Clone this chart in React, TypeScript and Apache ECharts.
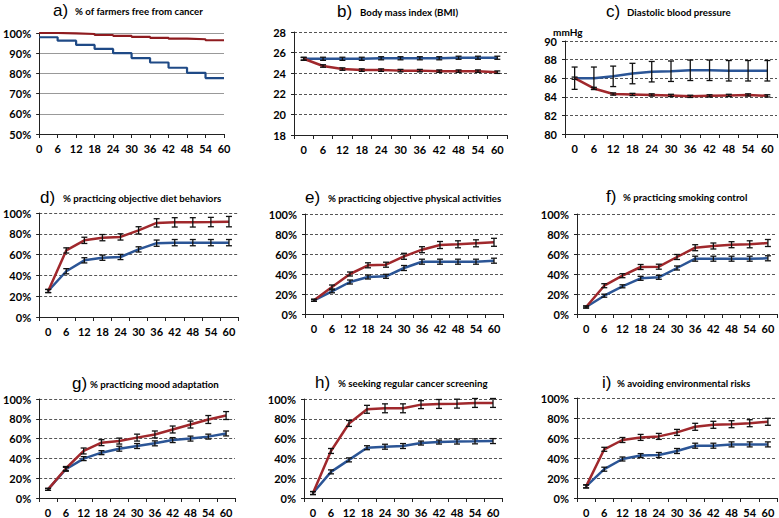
import React, { useEffect, useRef } from "react";
import * as echarts from "echarts";

// ---------- data ----------
const monthLabels = ["0", "6", "12", "18", "24", "30", "36", "42", "48", "54", "60"];
const monthValues = [0, 6, 12, 18, 24, 30, 36, 42, 48, 54, 60];

// a) % free from cancer (step curves)
const aIntervention = [100, 99.8, 99.5, 99.0, 98.6, 98.1, 97.6, 97.2, 96.9, 96.4, 96.4];
const aControl = [97.9, 96.2, 94.1, 92.1, 90.0, 87.6, 85.4, 82.8, 80.3, 77.7, 77.7];

// b) BMI
const bIntervention = [25.4, 24.7, 24.4, 24.3, 24.3, 24.25, 24.25, 24.2, 24.2, 24.2, 24.1];
const bInterventionErr = [0.12, 0.12, 0.12, 0.12, 0.12, 0.12, 0.12, 0.12, 0.12, 0.12, 0.12];
const bControl = [25.4, 25.4, 25.4, 25.4, 25.45, 25.45, 25.45, 25.45, 25.5, 25.5, 25.5];
const bControlErr = [0.15, 0.15, 0.15, 0.15, 0.15, 0.15, 0.15, 0.15, 0.15, 0.15, 0.15];

// c) Diastolic blood pressure
const cIntervention = [86.0, 84.9, 84.3, 84.25, 84.2, 84.15, 84.05, 84.1, 84.15, 84.2, 84.1];
const cInterventionErr = [0.12, 0.12, 0.12, 0.12, 0.12, 0.12, 0.12, 0.12, 0.12, 0.12, 0.12];
const cControl = [86.0, 86.0, 86.2, 86.5, 86.7, 86.75, 86.85, 86.85, 86.8, 86.8, 86.8];
const cControlErr = [1.2, 1.2, 1.1, 1.1, 1.1, 1.1, 1.1, 1.1, 1.1, 1.1, 1.1];

// d) diet behaviors
const dIntervention = [25, 64, 73.7, 76.3, 77, 83.3, 90.5, 91, 91, 91.3, 91.7];
const dInterventionErr = [1.5, 2.5, 3, 3, 3, 3.5, 4, 4.5, 4.5, 4.5, 5];
const dControl = [25, 44, 54.5, 57, 57.7, 65, 71, 71.5, 71.5, 71.5, 71.5];
const dControlErr = [1.5, 2.5, 2.5, 2.5, 2.5, 2.5, 3, 3, 3, 3, 3];

// e) physical activities
const eIntervention = [13.7, 27, 40, 48.7, 49.3, 57.7, 64.3, 69, 69.7, 70.7, 71.7];
const eInterventionErr = [1, 2, 2, 2.5, 2.5, 3, 3, 3.5, 3.5, 3.5, 4];
const eControl = [13.7, 22.7, 32, 37, 37.7, 46, 52.3, 52.3, 52.3, 52.3, 53.3];
const eControlErr = [1, 1.5, 2, 2, 2, 2.5, 2.5, 2.5, 2.5, 2.5, 2.5];

// f) smoking control
const fIntervention = [7, 28.3, 38.3, 47, 47.3, 57, 66.3, 68, 69.3, 69.7, 71];
const fInterventionErr = [1, 2, 2, 2.5, 2.5, 2.5, 3, 3, 3, 3.5, 3.5];
const fControl = [7, 18.3, 27.7, 35.7, 36.7, 46, 55.3, 55.3, 55.3, 55.3, 55.7];
const fControlErr = [1, 1.5, 1.5, 2, 2, 2, 2.5, 2.5, 2.5, 2.5, 2.5];

// g) mood adaptation
const gIntervention = [8.7, 29.8, 47.5, 55.9, 57.5, 61, 64.2, 69.2, 74.2, 79.3, 83.3];
const gInterventionErr = [1, 2, 3, 3, 3, 3.5, 3.5, 3.5, 3.5, 4, 4];
const gControl = [8.7, 29, 39.8, 45.8, 49.8, 52.5, 55.2, 58.5, 60, 62, 65.2];
const gControlErr = [1, 2, 2, 2, 2.5, 2.5, 2.5, 2.5, 2.5, 2.5, 2.5];

// h) cancer screening
const hIntervention = [5, 47.5, 75.3, 89.6, 90.6, 90.6, 94.3, 95, 95.3, 96, 96];
const hInterventionErr = [1.5, 2.5, 3, 4, 4.5, 4.5, 4, 4.5, 4.5, 4.5, 4.5];
const hControl = [5, 26.4, 38.5, 50.8, 51.8, 52.5, 55.5, 56.5, 57, 57.2, 57.5];
const hControlErr = [1.5, 2, 2, 2, 2.5, 2.5, 2, 2, 2.5, 2.5, 2.5];

// i) environmental risks
const iIntervention = [11.6, 48.7, 58, 60.6, 61.6, 65.6, 71.2, 73.2, 73.8, 74.8, 76.2];
const iInterventionErr = [1.5, 2, 2.5, 3, 3, 3, 3.5, 3.5, 3.5, 3.5, 3.5];
const iControl = [11.6, 28.8, 39, 42.4, 43, 47, 52.3, 52.3, 53.6, 53.6, 53.6];
const iControlErr = [1.5, 2, 2, 2, 2.5, 2.5, 2.5, 2.5, 2.5, 2.5, 2.5];

const panelTitles = [
  "% of farmers free from cancer",
  "Body mass index (BMI)",
  "Diastolic blood pressure",
  "% practicing objective diet behaviors",
  "% practicing objective physical activities",
  "% practicing smoking control",
  "% practicing mood adaptation",
  "% seeking regular cancer screening",
  "% avoiding environmental risks",
];
const panelLetters = ["a)", "b)", "c)", "d)", "e)", "f)", "g)", "h)", "i)"];

// ---------- styling / layout ----------
const RED = "#A0282C";
const BLUE = "#2B5596";
const FONT = "Lato";

const grids = [
  { left: 36, top: 33, width: 188, height: 101 },
  { left: 294, top: 32, width: 213, height: 103 },
  { left: 565, top: 41, width: 212, height: 93 },
  { left: 36, top: 213, width: 202, height: 104 },
  { left: 305, top: 214, width: 198, height: 100 },
  { left: 577, top: 214, width: 200, height: 100 },
  { left: 37, top: 399, width: 198, height: 100 },
  { left: 304, top: 399, width: 198, height: 100 },
  { left: 577, top: 398, width: 200, height: 100 },
];

const titlePos = [
  { lx: 53, tx: 75, y: 10 },
  { lx: 337, tx: 360, y: 11 },
  { lx: 606, tx: 627, y: 11 },
  { lx: 40, tx: 63, y: 197 },
  { lx: 305, tx: 328, y: 197 },
  { lx: 606, tx: 623, y: 196 },
  { lx: 72, tx: 90, y: 383 },
  { lx: 315, tx: 338, y: 382 },
  { lx: 602, tx: 617, y: 382 },
];

const labelStyle = { color: "#000", fontFamily: FONT, fontWeight: "bold" as const, fontSize: 11 };

function catXAxis(gridIndex: number) {
  return {
    type: "category",
    gridIndex,
    data: monthLabels,
    boundaryGap: true,
    axisLine: { lineStyle: { color: "#222", width: 1 } },
    axisTick: { show: true, length: 4, lineStyle: { color: "#222" } },
    axisLabel: { ...labelStyle, margin: 9 },
    splitLine: { show: false },
  };
}

function valYAxis(gridIndex: number, min: number, max: number, interval: number, pct: boolean) {
  return {
    type: "value",
    gridIndex,
    min,
    max,
    interval,
    axisLine: { show: true, lineStyle: { color: "#222", width: 1 } },
    axisTick: { show: true, length: 3, lineStyle: { color: "#222" } },
    axisLabel: { ...labelStyle, margin: 8, formatter: pct ? "{value}%" : "{value}" },
    splitLine: { show: true, lineStyle: { color: "#555", width: 1, type: [3, 2] } },
  };
}

function lineSeries(idx: number, data: number[], color: string) {
  return {
    type: "line",
    xAxisIndex: idx,
    yAxisIndex: idx,
    data,
    symbol: "none",
    lineStyle: { color, width: 2.5 },
    z: 3,
  };
}

function errSeries(idx: number, values: number[], errs: number[]) {
  return {
    type: "custom",
    xAxisIndex: idx,
    yAxisIndex: idx,
    z: 5,
    encode: { x: 0, y: [1, 2] },
    data: values.map((v, k) => [k, v - errs[k], v + errs[k]]),
    renderItem: (_params: any, api: any) => {
      const k = api.value(0);
      const lo = api.coord([k, api.value(1)]);
      const hi = api.coord([k, api.value(2)]);
      const w = 3;
      const st = { stroke: "#111", lineWidth: 1.3 };
      return {
        type: "group",
        children: [
          { type: "line", shape: { x1: lo[0], y1: lo[1], x2: hi[0], y2: hi[1] }, style: st },
          { type: "line", shape: { x1: lo[0] - w, y1: lo[1], x2: lo[0] + w, y2: lo[1] }, style: st },
          { type: "line", shape: { x1: hi[0] - w, y1: hi[1], x2: hi[0] + w, y2: hi[1] }, style: st },
        ],
      };
    },
  };
}

export default function App() {
  const ref = useRef<HTMLDivElement>(null);

  useEffect(() => {
    if (!ref.current) return;
    const chart = echarts.init(ref.current, null, { renderer: "svg" });

    const xAxes: any[] = [];
    const yAxes: any[] = [];
    const series: any[] = [];

    // panel a
    xAxes.push({
      type: "value",
      gridIndex: 0,
      min: 0,
      max: 60,
      interval: 6,
      axisLine: { show: true, lineStyle: { color: "#222", width: 1 } },
      axisTick: { show: true, length: 4, lineStyle: { color: "#222" } },
      axisLabel: { ...labelStyle, margin: 9 },
      splitLine: { show: false },
    });
    yAxes.push({
      ...valYAxis(0, 50, 100, 10, true),
      splitLine: { show: true, lineStyle: { color: "#999", width: 1, type: "solid" } },
    });
    series.push({
      type: "line",
      xAxisIndex: 0,
      yAxisIndex: 0,
      step: "end",
      symbol: "none",
      data: monthValues.map((m, k) => [m, aIntervention[k]]),
      lineStyle: { color: "#8E1B1F", width: 2.2 },
    });
    series.push({
      type: "line",
      xAxisIndex: 0,
      yAxisIndex: 0,
      step: "end",
      symbol: "none",
      data: monthValues.map((m, k) => [m, aControl[k]]),
      lineStyle: { color: "#1F4A86", width: 2.2 },
    });

    const panels = [
      { min: 18, max: 28, interval: 2, pct: false, ri: bIntervention, re: bInterventionErr, ci: bControl, ce: bControlErr },
      { min: 80, max: 90, interval: 2, pct: false, ri: cIntervention, re: cInterventionErr, ci: cControl, ce: cControlErr },
      { min: 0, max: 100, interval: 20, pct: true, ri: dIntervention, re: dInterventionErr, ci: dControl, ce: dControlErr },
      { min: 0, max: 100, interval: 20, pct: true, ri: eIntervention, re: eInterventionErr, ci: eControl, ce: eControlErr },
      { min: 0, max: 100, interval: 20, pct: true, ri: fIntervention, re: fInterventionErr, ci: fControl, ce: fControlErr },
      { min: 0, max: 100, interval: 20, pct: true, ri: gIntervention, re: gInterventionErr, ci: gControl, ce: gControlErr },
      { min: 0, max: 100, interval: 20, pct: true, ri: hIntervention, re: hInterventionErr, ci: hControl, ce: hControlErr },
      { min: 0, max: 100, interval: 20, pct: true, ri: iIntervention, re: iInterventionErr, ci: iControl, ce: iControlErr },
    ];

    panels.forEach((p, n) => {
      const idx = n + 1;
      xAxes.push(catXAxis(idx));
      yAxes.push(valYAxis(idx, p.min, p.max, p.interval, p.pct));
      series.push(lineSeries(idx, p.ci, BLUE));
      series.push(lineSeries(idx, p.ri, RED));
      series.push(errSeries(idx, p.ci, p.ce));
      series.push(errSeries(idx, p.ri, p.re));
    });

    const graphics: any[] = [];
    titlePos.forEach((t, k) => {
      graphics.push({
        type: "text",
        x: t.lx,
        y: t.y,
        style: {
          text: panelLetters[k],
          font: "17px 'Liberation Sans'",
          fill: "#000",
          verticalAlign: "middle",
          align: "left",
        },
      });
      graphics.push({
        type: "text",
        x: t.tx,
        y: t.y + 1,
        style: {
          text: panelTitles[k],
          font: `bold 9.7px ${FONT}`,
          fill: "#000",
          verticalAlign: "middle",
          align: "left",
        },
      });
    });
    graphics.push({
      type: "text",
      x: 553,
      y: 32,
      style: { text: "mmHg", font: `bold 10px ${FONT}`, fill: "#000", verticalAlign: "middle", align: "left" },
    });

    chart.setOption({
      animation: false,
      backgroundColor: "#fff",
      grid: grids.map((g) => ({ ...g, containLabel: false })),
      xAxis: xAxes,
      yAxis: yAxes,
      series,
      graphic: graphics,
    });

    return () => chart.dispose();
  }, []);

  return (
    <div
      ref={ref}
      style={{ position: "absolute", left: 0, top: 0, width: 779, height: 518 }}
    />
  );
}
